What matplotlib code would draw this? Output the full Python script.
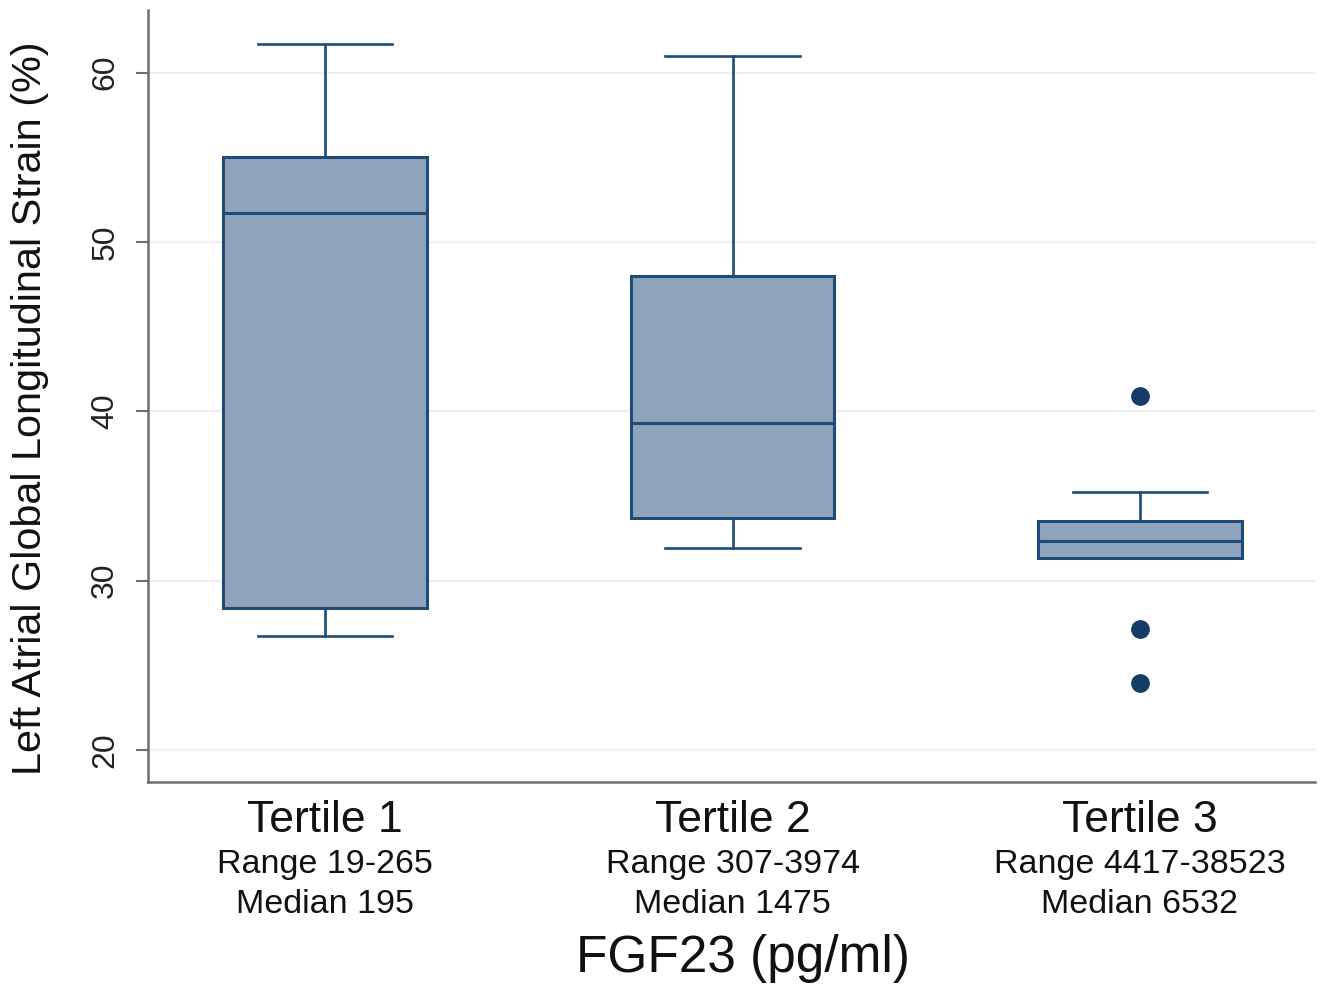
import matplotlib.pyplot as plt

plt.rcParams['font.family'] = ['Liberation Sans', 'DejaVu Sans']

# box statistics (LA global longitudinal strain, %)
groups = ['Tertile 1', 'Tertile 2', 'Tertile 3']
ranges = ['Range 19-265', 'Range 307-3974', 'Range 4417-38523']
medians_txt = ['Median 195', 'Median 1475', 'Median 6532']
whis_low = [26.7, 31.9, 31.35]
q1 = [28.4, 33.7, 31.35]
med = [51.7, 39.3, 32.35]
q3 = [55.0, 48.0, 33.5]
whis_high = [61.7, 60.95, 35.2]
outliers = [[], [], [40.9, 27.15, 23.95]]

box_fill = '#8fa4ba'
box_edge = '#1e4b78'
dot_col = '#173c68'
axis_grey = '#6e6e6e'

stats = []
for i in range(len(groups)):
    stats.append({'label': groups[i], 'whislo': whis_low[i], 'q1': q1[i], 'med': med[i],
                  'q3': q3[i], 'whishi': whis_high[i], 'fliers': outliers[i]})

fig = plt.figure(figsize=(13.23, 9.9), dpi=100)
ax = fig.add_axes([0.1119, 0.2101, 0.8821, 0.7799])

positions = [1, 2, 3]
ax.bxp(stats, positions=positions, widths=0.5, patch_artist=True, showfliers=True,
       boxprops=dict(facecolor=box_fill, edgecolor=box_edge, linewidth=2.2),
       medianprops=dict(color=box_edge, linewidth=2.2),
       whiskerprops=dict(color=box_edge, linewidth=1.9),
       capprops=dict(color=box_edge, linewidth=1.9),
       capwidths=0.33,
       flierprops=dict(marker='o', markerfacecolor=dot_col, markeredgecolor=dot_col,
                       markersize=12.5, linestyle='none'),
       zorder=3)

ax.set_xlim(0.565, 3.43)
ax.set_ylim(18.1, 63.7)
ax.set_yticks([20, 30, 40, 50, 60])
ax.set_yticklabels(['20', '30', '40', '50', '60'], rotation=90, va='center', fontsize=23)
ax.yaxis.grid(True, color='#e9f1f2', linewidth=1.6, zorder=0)
ax.set_axisbelow(True)

for s in ['top', 'right']:
    ax.spines[s].set_visible(False)
for s in ['left', 'bottom']:
    ax.spines[s].set_color(axis_grey)
    ax.spines[s].set_linewidth(1.8)
ax.tick_params(axis='y', length=9, width=1.5, color=axis_grey, pad=11, labelcolor='#222222')
ax.tick_params(axis='x', length=0)
ax.set_xticks(positions)
ax.set_xticklabels([])

ax.set_ylabel('Left Atrial Global Longitudinal Strain (%)', fontsize=29.8, color='#111111',
              va='center')
ax.yaxis.set_label_coords(-0.1013, 0.4845)

for p, g, r, m in zip(positions, groups, ranges, medians_txt):
    ax.annotate(g, xy=(p, 0), xycoords=('data', 'axes fraction'), xytext=(0, -27.5),
                textcoords='offset points', ha='center', va='center', fontsize=32, color='#111111')
    ax.annotate(r, xy=(p, 0), xycoords=('data', 'axes fraction'), xytext=(0, -59.5),
                textcoords='offset points', ha='center', va='center', fontsize=24.5, color='#111111')
    ax.annotate(m, xy=(p, 0), xycoords=('data', 'axes fraction'), xytext=(0, -88.5),
                textcoords='offset points', ha='center', va='center', fontsize=24.5, color='#111111')

ax.annotate('FGF23 (pg/ml)', xy=(0.51, 0), xycoords='axes fraction', xytext=(0, -127),
            textcoords='offset points', ha='center', va='center', fontsize=37, color='#111111')

fig.savefig('out.png', dpi=100)
